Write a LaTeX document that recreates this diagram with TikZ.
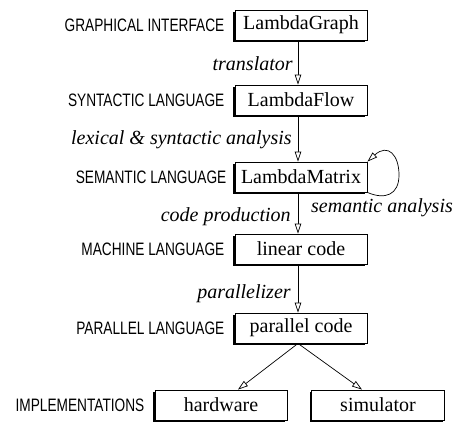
\documentclass[tikz,border=0pt]{standalone}
\usepackage{fontspec}
\setmainfont{Liberation Serif}
\newfontfamily\labfont[FakeStretch=0.76]{Liberation Sans}
\usetikzlibrary{arrows.meta,shadows}
\begin{document}
\begin{tikzpicture}[x=1pt,y=-1pt,
  box/.style={draw,line width=0.9pt,fill=white,minimum width=132pt,minimum height=30pt,inner sep=0pt,
    font=\fontsize{20}{24}\selectfont,
    drop shadow={shadow xshift=-2pt,shadow yshift=-2pt,fill=black,opacity=1}},
  lvl/.style={anchor=east,inner sep=0pt,font=\labfont\fontsize{18}{21}\selectfont},
  elab/.style={anchor=east,inner sep=0pt,font=\fontsize{20}{24}\selectfont\itshape},
  arr/.style={line width=0.7pt,-{Triangle[length=10pt,width=6.5pt,fill=white,line width=0.7pt]}}]
\useasboundingbox (0,0) rectangle (455,421);
\node[box] (g) at (301,25) {LambdaGraph};
\node[box] (f) at (301,100) {LambdaFlow};
\node[box] (m) at (301,177) {LambdaMatrix};
\node[box] (lc) at (301,249) {linear code};
\node[box] (pc) at (301,328) {parallel code};
\node[box] (hw) at (221,405) {hardware};
\node[box,minimum width=133pt] (sim) at (378,405) {simulator};

\node[lvl] (lg) at ([xshift=-10pt]g.west) {GRAPHICAL INTERFACE};
\node[lvl] (lf) at ([xshift=-10pt]f.west) {SYNTACTIC LANGUAGE};
\node[lvl] (lm) at ([xshift=-8pt]m.west) {SEMANTIC LANGUAGE};
\node[lvl] (llc) at ([xshift=-10pt]lc.west) {MACHINE LANGUAGE};
\node[lvl] (lpc) at ([xshift=-10pt]pc.west) {PARALLEL LANGUAGE};
\node[lvl] (lhw) at ([xshift=-10pt]hw.west) {IMPLEMENTATIONS};

\draw[arr] ([xshift=-3pt]g.south) -- node[elab,pos=0.53,xshift=-5pt]{translator} ([xshift=-3pt]f.north);
\draw[arr] ([xshift=-3pt]f.south) -- node[elab,pos=0.53,xshift=-6pt]{lexical \& syntactic analysis} ([xshift=-3pt]m.north);
\draw[arr] ([xshift=-3pt]m.south) -- node[elab,pos=0.58,xshift=-7pt]{code production} ([xshift=-3pt]lc.north);
\draw[arr] ([xshift=-3pt]lc.south) -- node[elab,pos=0.6,xshift=-7pt]{parallelizer} ([xshift=-3pt]pc.north);
\draw[arr] ([xshift=-3pt]pc.south) -- ([xshift=17pt]hw.north);
\draw[arr] ([xshift=-3pt]pc.south) -- ([xshift=-16pt]sim.north);
\draw[arr] (m.south east) .. controls (385,200) and (399,195) .. (399,175)
  .. controls (399,155) and (388,143) .. (m.north east);
\node[anchor=west,inner sep=0pt,font=\fontsize{20}{24}\selectfont\itshape] (sa) at (311,208) {semantic analysis};
\end{tikzpicture}
\end{document}
